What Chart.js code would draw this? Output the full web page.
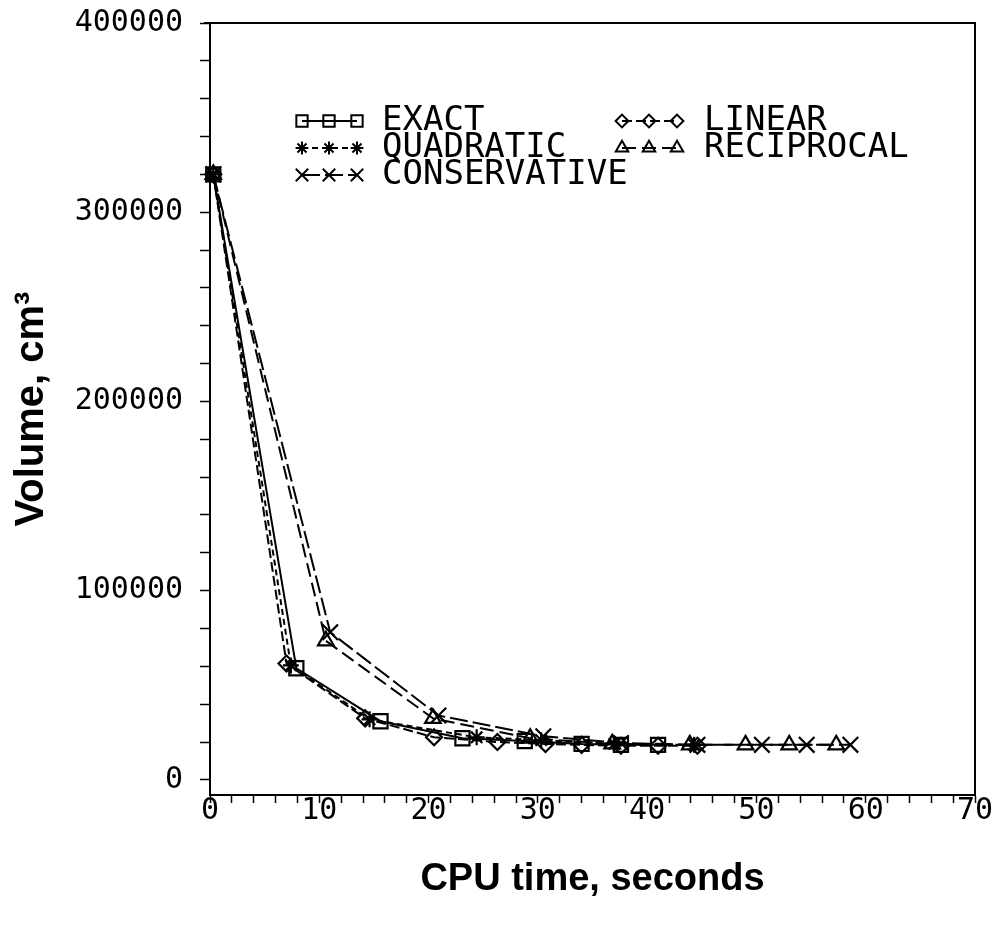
<!DOCTYPE html>
<html>
<head>
<meta charset="utf-8">
<script src="https://cdn.jsdelivr.net/npm/chart.js@4.4.0/dist/chart.umd.min.js"></script>
<style>
  html, body { margin: 0; padding: 0; background: #fff; }
</style>
</head>
<body>
<canvas id="myChart" width="996" height="929"></canvas>
<script>
// values
var exactX = [0.3, 7.9, 15.6, 23.1, 28.8, 34.0, 37.6, 41.0];
var exactY = [320000, 59000, 31000, 22000, 20500, 19000, 18500, 18500];

var quadX = [0.3, 7.4, 14.6, 24.4, 30.3, 37.0, 44.3];
var quadY = [320000, 60500, 32000, 22500, 21000, 19000, 18500];

var consX = [0.3, 11.0, 20.9, 30.5, 37.6, 44.6, 50.5, 54.6, 58.6];
var consY = [320000, 78000, 34000, 23000, 19500, 18500, 18500, 18500, 18500];

var linX = [0.3, 7.0, 14.2, 20.5, 26.3, 30.7, 34.0, 37.6, 41.0, 44.6];
var linY = [320000, 61500, 32500, 22500, 20000, 19000, 18500, 18000, 18000, 18000];

var recX = [0.3, 10.6, 20.4, 29.3, 36.8, 43.9, 49.0, 53.0, 57.3];
var recY = [320000, 73500, 32500, 22000, 19000, 18500, 18500, 18500, 18500];

var yTicks = [];
for (var v = 0; v <= 400000; v += 20000) yTicks.push(v);
var xTicks = [];
for (var t = 0; t <= 70; t += 2) xTicks.push(t);

function pts(xs, ys) {
  return xs.map(function (x, i) { return { x: x, y: ys[i] }; });
}

function series(label, xs, ys, style, radius, dash) {
  return {
    label: label,
    data: pts(xs, ys),
    showLine: true,
    borderColor: '#000',
    backgroundColor: 'rgba(0,0,0,0)',
    borderWidth: 2,
    borderDash: dash,
    pointStyle: style,
    pointRadius: radius,
    pointBorderWidth: 2.2,
    pointBorderColor: '#000',
    pointBackgroundColor: 'rgba(0,0,0,0)',
    clip: 14
  };
}

// legend placement (pixels) - two columns inside the plot
var legendRows = [
  { ds: 0, xs: [302, 329, 357], y: 121, tx: 382 },
  { ds: 1, xs: [302, 329, 357], y: 148, tx: 382 },
  { ds: 2, xs: [302, 329, 357], y: 175, tx: 382 },
  { ds: 3, xs: [622, 649, 677], y: 121, tx: 704 },
  { ds: 4, xs: [622, 649, 677], y: 148, tx: 704 }
];

var plotLegend = {
  id: 'plotLegend',
  afterDatasetsDraw: function (chart) {
    var ctx = chart.ctx;
    legendRows.forEach(function (r) {
      var ds = chart.data.datasets[r.ds];
      ctx.save();
      ctx.strokeStyle = '#000';
      ctx.lineWidth = 2;
      ctx.setLineDash(ds.borderDash || []);
      ctx.beginPath();
      ctx.moveTo(r.xs[0], r.y);
      ctx.lineTo(r.xs[r.xs.length - 1], r.y);
      ctx.stroke();
      ctx.setLineDash([]);
      ctx.fillStyle = 'rgba(0,0,0,0)';
      r.xs.forEach(function (x) {
        Chart.helpers.drawPoint(ctx, {
          pointStyle: ds.pointStyle, radius: ds.pointRadius * 0.8,
          borderWidth: 2.4, rotation: 0
        }, x, r.y);
      });
      ctx.fillStyle = '#000';
      ctx.font = '34px "DejaVu Sans Mono"';
      ctx.textBaseline = 'middle';
      ctx.textAlign = 'left';
      ctx.fillText(ds.label, r.tx, r.y);
      ctx.restore();
    });
  }
};

var frame = {
  id: 'frame',
  afterDraw: function (chart) {
    var a = chart.chartArea, ctx = chart.ctx;
    ctx.save();
    ctx.strokeStyle = '#000';
    ctx.lineWidth = 2;
    ctx.beginPath();
    ctx.moveTo(a.left - 6, a.top);
    ctx.lineTo(a.right, a.top);
    ctx.lineTo(a.right, a.bottom);
    ctx.stroke();
    ctx.restore();
  }
};

var tickFont = { family: 'DejaVu Sans Mono', size: 30 };

var ctx = document.getElementById('myChart').getContext('2d');
var myChart = new Chart(ctx, {
  type: 'scatter',
  data: {
    datasets: [
      series('EXACT', exactX, exactY, 'rect', 10, []),
      series('QUADRATIC', quadX, quadY, 'star', 8, [6, 4]),
      series('CONSERVATIVE', consX, consY, 'crossRot', 11, [18, 5]),
      series('LINEAR', linX, linY, 'rectRot', 8, [10, 4]),
      series('RECIPROCAL', recX, recY, 'triangle', 9, [14, 6])
    ]
  },
  plugins: [plotLegend, frame],
  options: {
    responsive: false,
    devicePixelRatio: 1,
    animation: false,
    layout: { padding: { top: 23, right: 21, left: 0, bottom: 0 } },
    plugins: {
      legend: { display: false },
      tooltip: { enabled: false }
    },
    scales: {
      x: {
        type: 'linear',
        min: 0,
        max: 70,
        afterBuildTicks: function (s) { s.ticks = xTicks.map(function (v) { return { value: v }; }); },
        afterFit: function (s) { s.height = 134; s.paddingLeft = 0; s.paddingRight = 0; },
        ticks: {
          autoSkip: false,
          maxRotation: 0,
          font: tickFont,
          color: '#000',
          padding: -10,
          callback: function (v) { return v % 10 === 0 ? String(v) : ''; }
        },
        grid: {
          drawOnChartArea: false,
          drawTicks: true,
          tickLength: 8,
          tickColor: '#000',
          tickWidth: 1.5
        },
        border: { color: '#000', width: 2 },
        title: {
          display: true,
          text: 'CPU time, seconds',
          color: '#000',
          font: { family: 'Liberation Sans', size: 38, weight: 'bold', lineHeight: 1 },
          padding: { top: 0, bottom: 30 }
        }
      },
      y: {
        type: 'linear',
        min: -8000,
        max: 400000,
        afterBuildTicks: function (s) { s.ticks = yTicks.map(function (v) { return { value: v }; }); },
        afterFit: function (s) { s.width = 210; s.paddingTop = 0; s.paddingBottom = 0; },
        ticks: {
          autoSkip: false,
          font: tickFont,
          color: '#000',
          padding: 17,
          callback: function (v) { return v % 100000 === 0 ? String(v) : ''; }
        },
        grid: {
          drawOnChartArea: false,
          drawTicks: true,
          tickLength: 10,
          tickColor: '#000',
          tickWidth: 1.5
        },
        border: { color: '#000', width: 2 },
        title: {
          display: true,
          text: 'Volume, cm³',
          color: '#000',
          font: { family: 'Liberation Sans', size: 40, weight: 'bold', lineHeight: 1 },
          padding: { top: 12, bottom: 0 }
        }
      }
    }
  }
});
</script>
</body>
</html>
